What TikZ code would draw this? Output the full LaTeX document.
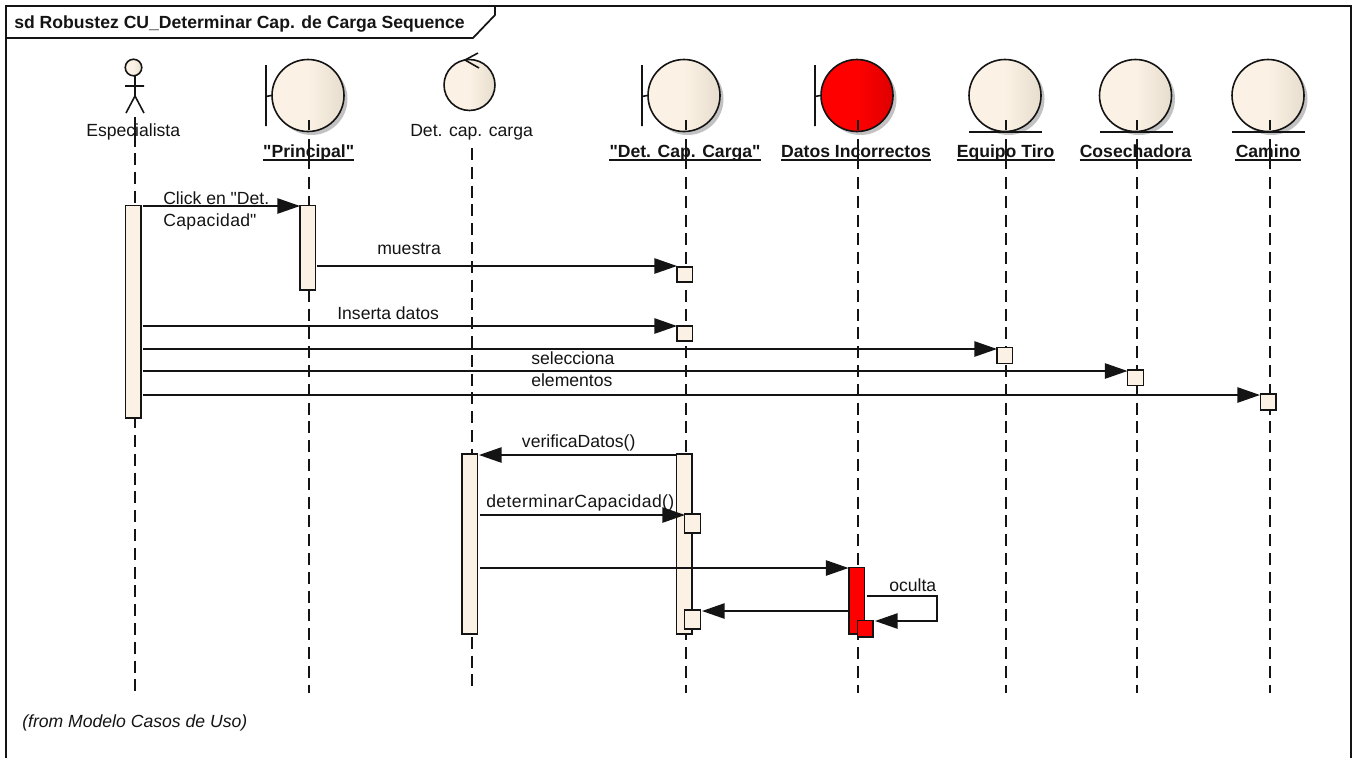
\documentclass[tikz,border=0pt]{standalone}
\usepackage{fontspec}
\setmainfont{Liberation Sans}
\newfontfamily\plainfam{Liberation Sans}
\usetikzlibrary{arrows.meta}
\definecolor{ink}{HTML}{141414}
\definecolor{cream}{HTML}{FBF2E5}
\definecolor{creamdk}{HTML}{E6DDCE}
\definecolor{redd}{HTML}{DE0000}
\definecolor{shad}{HTML}{C2C2C2}
\newcommand{\qq}{{\plainfam\symbol{34}}}
\pgfdeclarehorizontalshading{beigeshade}{100bp}{color(0bp)=(cream);color(50bp)=(cream);color(75bp)=(creamdk);color(100bp)=(creamdk)}
\pgfdeclarehorizontalshading{redshade}{100bp}{color(0bp)=(red);color(50bp)=(red);color(75bp)=(redd);color(100bp)=(redd)}
\tikzset{
  x=0.75pt,y=-0.75pt,
  line/.style={draw=ink,line width=1.2pt},
  framel/.style={draw=ink,line width=1.7pt},
  life/.style={draw=ink,line width=1.2pt},
  lifedash/.style={life,dash pattern=on 9pt off 5.1pt},
  ball/.style={circle,draw=ink,line width=1.2pt,inner sep=0pt,minimum size=54pt,shading=beigeshade},
  redball/.style={ball,shading=redshade},
  ctrlball/.style={ball,minimum size=38.2pt},
  headball/.style={ball,minimum size=12.4pt},
  shadowball/.style={circle,fill=shad,inner sep=0pt,minimum size=54pt},
  act/.style={rectangle,draw=ink,line width=1.2pt,fill=cream,inner sep=0pt,minimum width=11.8pt},
  redact/.style={act,fill=red},
  msg/.style={line,-{Triangle[length=17pt,width=11.5pt]}},
  txt/.style={inner sep=0pt,anchor=base west,text=ink,font=\fontsize{13.2}{15}\selectfont},
  bold/.style={inner sep=0pt,anchor=base,text=ink,font=\fontsize{13.2}{15}\selectfont\bfseries},
}
\begin{document}
\begin{tikzpicture}
\useasboundingbox (0,0) rectangle (1358,758);
% frame
\coordinate (fbl) at (6,758); \coordinate (ftl) at (6,6); \coordinate (ftr) at (1351,6); \coordinate (fbr) at (1351,758);
\draw[framel] (fbl) -- (ftl) -- (ftr) -- (fbr);
\coordinate (tl) at (6,38); \coordinate (tm) at (473,38); \coordinate (td) at (495,15); \coordinate (tu) at (495,6);
\draw[framel,line width=1.3pt] (tl) -- (tm) -- (td) -- (tu);
\node[bold,anchor=base west] (title) at (14,28) {sd Robustez CU\_Determinar Cap. de Carga Sequence};

% actor
\node[headball] (head) at (133.5,67.5) {};
\coordinate (neck) at (135,76); \coordinate (hip) at (135,96);
\coordinate (armL) at (125,86); \coordinate (armR) at (144,86);
\coordinate (legL) at (126,113); \coordinate (legR) at (144,113);
\draw[line] (neck) -- (hip) (armL) -- (armR) (legL) -- (hip) -- (legR);
\node[txt] (lEsp) at (86,136.5) {Especialista};

% boundary
\foreach \n/\cx/\bx in {Pri/308/266,Det/684/642}{
  \node[shadowball] at (\cx+3.5,95.5+3.5) {};
  \node[ball] (b\n) at (\cx,95.5) {};
  \coordinate (bt\n) at (\bx,65); \coordinate (bb\n) at (\bx,126); \coordinate (bs\n) at (\bx,96.5);
  \draw[line] (bt\n) -- (bb\n) (bs\n) -- (b\n.west);
}
\node[shadowball] at (857+3.5,95.5+3.5) {};
\node[redball] (bDat) at (857,95.5) {};
\coordinate (btDat) at (815,65); \coordinate (bbDat) at (815,126); \coordinate (bsDat) at (815,96.5);
\draw[line] (btDat) -- (bbDat) (bsDat) -- (bDat.west);

% control
\node[ctrlball] (ctl) at (469.5,85) {};
\coordinate (ca) at (479,68); \coordinate (cb) at (465,60); \coordinate (cc) at (478,53);
\draw[line] (ca) -- (cb) -- (cc);
\node[txt] (lCtl) at (410,136.5) {Det. cap. carga};

% entities
\foreach \n/\cx/\ux in {Equ/1005/969,Cos/1135.5/1100,Cam/1268/1232}{
  \node[shadowball] at (\cx+3.5,95.5+3.5) {};
  \node[ball] (e\n) at (\cx,95.5) {};
  \coordinate (ua\n) at (\ux,132) ; \coordinate (ub\n) at (\ux+73,132);
  \draw[line] (ua\n) -- (ub\n);
}

% bold labels
\foreach \n/\x/\t in {Pri/308.7/{\qq Principal\qq},Det/685/{\qq Det. Cap. Carga\qq},Dat/856/{Datos Incorrectos},Equ/1005.5/{Equipo Tiro},Cos/1135.5/{Cosechadora},Cam/1268/{Camino}}{
  \node[bold] (l\n) at (\x,157.5) {\t};
  \draw[line] ([yshift=-2pt]l\n.base west) -- ([yshift=-2pt]l\n.base east);
}

% lifelines
\foreach \n/\x in {Pri/309,Det/686,Dat/858,Equ/1006,Cos/1137,Cam/1270}{
  \coordinate (s1\n) at (\x,120); \coordinate (s2\n) at (\x,130);
  \coordinate (s3\n) at (\x,139); \coordinate (s4\n) at (\x,169);
  \coordinate (s5\n) at (\x,177); \coordinate (s6\n) at (\x,693);
  \draw[life] (s1\n) -- (s2\n) (s3\n) -- (s4\n);
  \draw[lifedash] (s5\n) -- (s6\n);
}
\coordinate (sa) at (135,117); \coordinate (sb) at (135,147);
\coordinate (sc) at (135,153); \coordinate (sd) at (135,693);
\draw[life] (sa) -- (sb);
\draw[lifedash] (sc) -- (sd);
\coordinate (se) at (472,148); \coordinate (sf) at (472,693);
\draw[lifedash] (se) -- (sf);

% activations
\node[act,minimum height=159.5pt] (aEsp) at (133.3,311.7) {};
\node[act,minimum height=63.3pt] (aPri) at (307.8,247.5) {};
\node[act,minimum height=135pt] (aCtl) at (469.7,544) {};
\node[act,minimum height=135pt] (aDet) at (684.3,544) {};
\node[redact,minimum height=50pt] (aDat) at (856.8,600.7) {};

% small boxes
\foreach \n/\x/\y/\h in {d1/684.6/274.5/11.6pt,d2/684.6/333.5/11.6pt,eq/1004.8/355.5/12pt,co/1135.5/377.8/11.8pt,ca/1268.2/402/12pt,d3/692.5/523.5/14.2pt,d4/692.5/619.5/14.2pt}{
  \node[act,minimum height=\h] (\n) at (\x,\y) {};
}
\node[redact,minimum height=12.6pt] (rb) at (865.3,628.8) {};

% messages
\coordinate (m1a) at (143,206); \coordinate (m1b) at (300,206);
\draw[msg] (m1a) -- (m1b);
\coordinate (m2a) at (317,266); \coordinate (m2b) at (677,266);
\draw[msg] (m2a) -- (m2b);
\coordinate (m3a) at (143,326); \coordinate (m3b) at (677,326);
\draw[msg] (m3a) -- (m3b);
\coordinate (m4a) at (143,349); \coordinate (m4b) at (997,349);
\draw[msg] (m4a) -- (m4b);
\coordinate (m5a) at (143,371); \coordinate (m5b) at (1127.5,371);
\draw[msg] (m5a) -- (m5b);
\coordinate (m6a) at (143,395); \coordinate (m6b) at (1260,395);
\draw[msg] (m6a) -- (m6b);
\coordinate (m7a) at (676,455); \coordinate (m7b) at (479,455);
\draw[msg] (m7a) -- (m7b);
\coordinate (m8a) at (480,515); \coordinate (m8b) at (685,515);
\draw[msg] (m8a) -- (m8b);
\coordinate (m9a) at (480,568); \coordinate (m9b) at (848.5,568);
\draw[msg] (m9a) -- (m9b);
\coordinate (m10a) at (850,611); \coordinate (m10b) at (702,611);
\draw[msg] (m10a) -- (m10b);
\coordinate (m11a) at (866.7,596); \coordinate (m11c) at (937,596); \coordinate (m11d) at (937,621); \coordinate (m11b) at (875,621);
\draw[msg] (m11a) -- (m11c) -- (m11d) -- (m11b);

% message labels
\node[txt] (t1) at (163,204) {Click en \qq Det.};
\node[txt] (t2) at (163,226) {\addfontfeature{LetterSpace=2}Capacidad\qq};
\node[txt] (t3) at (377,254) {muestra};
\node[txt] (t4) at (337,319) {Inserta datos};
\node[txt] (t5) at (531,364) {selecciona};
\node[txt] (t6) at (531,386) {elementos};
\node[txt] (t7) at (521.7,447) {verificaDatos()};
\node[txt] (t8) at (486,507) {\addfontfeature{LetterSpace=2.3}determinarCapacidad()};
\node[txt] (t9) at (889,591) {oculta};
\node[txt,font=\fontsize{13.2}{15}\selectfont\itshape] (t10) at (22,727) {(from Modelo Casos de Uso)};
\end{tikzpicture}
\end{document}
